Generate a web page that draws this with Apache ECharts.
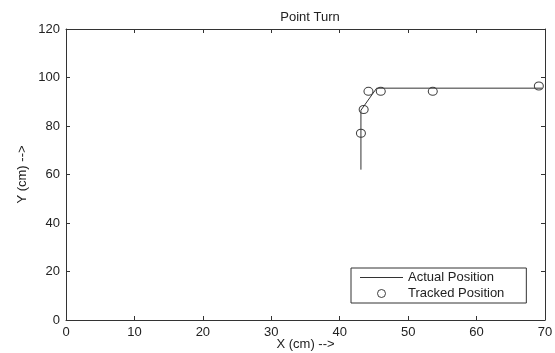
<!DOCTYPE html>
<html>
<head>
<meta charset="utf-8">
<script src="https://cdn.jsdelivr.net/npm/echarts@6/dist/echarts.min.js"></script>
<style>
  html, body { margin: 0; padding: 0; background: #fff; }
  #chart { width: 555px; height: 353px; }
</style>
</head>
<body>
<div id="chart"></div>
<script>
// values
let actualPath = [[43.1, 62], [43.1, 86.5], [45.4, 95.6], [69.6, 95.6]]
let trackedPoints = [[43.1, 77], [43.5, 86.8], [44.2, 94.3], [46.0, 94.3], [53.6, 94.3], [69.1, 96.5]]
let xTicks = [0, 10, 20, 30, 40, 50, 60, 70]
let yTicks = [0, 20, 40, 60, 80, 100, 120]

let font = 'Liberation Sans, Arial, sans-serif'
let axisColor = '#333'
let textColor = '#222'
let fontSize = 13

function axis (opts) {
  return Object.assign({
    type: 'value',
    splitLine: { show: false },
    axisLine: { show: true, onZero: false, lineStyle: { color: axisColor, width: 1 } },
    axisTick: { show: true, inside: true, length: 4, lineStyle: { color: axisColor } },
    axisLabel: { color: textColor, fontFamily: font, fontSize: fontSize }
  }, opts)
}

let chart = echarts.init(document.getElementById('chart'))
chart.setOption({
  animation: false,
  backgroundColor: '#fff',
  title: {
    text: 'Point Turn',
    left: 305,
    textAlign: 'center',
    top: 6,
    textStyle: { color: textColor, fontFamily: font, fontSize: fontSize, fontWeight: 'normal' }
  },
  grid: { left: 66, right: 10, top: 29, bottom: 33, outerBoundsMode: 'none', containLabel: false },
  xAxis: [
    axis({
      min: xTicks[0], max: xTicks[xTicks.length - 1], interval: 10, position: 'bottom',
      name: 'X (cm) -->', nameLocation: 'middle', nameGap: 18, nameMoveOverlap: false,
      nameTextStyle: { color: textColor, fontFamily: font, fontSize: fontSize },
      axisLabel: { color: textColor, fontFamily: font, fontSize: fontSize, margin: 6 }
    }),
    axis({ min: 0, max: 70, interval: 10, position: 'top', axisLabel: { show: false } })
  ],
  yAxis: [
    axis({
      min: yTicks[0], max: yTicks[yTicks.length - 1], interval: 20, position: 'left',
      name: 'Y (cm) -->', nameLocation: 'middle', nameGap: 37, nameMoveOverlap: false,
      nameTextStyle: { color: textColor, fontFamily: font, fontSize: fontSize },
      axisLabel: { color: textColor, fontFamily: font, fontSize: fontSize, margin: 6 }
    }),
    axis({ min: 0, max: 120, interval: 20, position: 'right', axisLabel: { show: false } })
  ],
  legend: {
    show: true,
    orient: 'vertical',
    left: 351,
    top: 268,
    padding: [3, 22, 3, 9],
    itemGap: 3,
    itemWidth: 43,
    itemHeight: 8,
    borderColor: '#333',
    borderWidth: 1,
    backgroundColor: '#fff',
    textStyle: { color: textColor, fontFamily: font, fontSize: fontSize },
    data: [
      { name: 'Actual Position', icon: 'path://M0,0L43,0L43,1L0,1Z', itemStyle: { color: '#333', borderWidth: 0 } },
      { name: 'Tracked Position', icon: 'circle', itemStyle: { color: '#fff', borderColor: '#111', borderWidth: 1 } }
    ]
  },
  series: [
    {
      name: 'Actual Position',
      type: 'line',
      data: actualPath,
      symbol: 'none',
      lineStyle: { color: '#333', width: 1 },
      itemStyle: { color: '#333' }
    },
    {
      name: 'Tracked Position',
      type: 'scatter',
      data: trackedPoints,
      symbol: 'circle',
      symbolSize: [9, 8],
      itemStyle: { color: '#fff', borderColor: '#111', borderWidth: 1 }
    }
  ]
})
</script>
</body>
</html>
